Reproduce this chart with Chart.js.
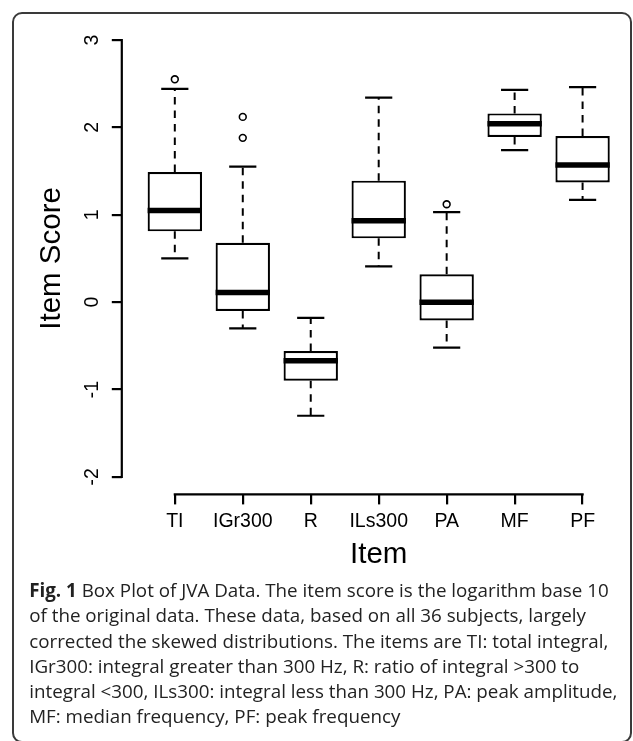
<!DOCTYPE html>
<html>
<head>
<meta charset="utf-8">
<script src="https://cdn.jsdelivr.net/npm/chart.js@4.4.1/dist/chart.umd.min.js"></script>
<style>
html,body{margin:0;padding:0;background:#fff;}
body{width:633px;height:741px;overflow:hidden;position:relative;}
#frame{position:absolute;left:12px;top:12px;width:620px;height:731px;box-sizing:border-box;border:2px solid #3a3a3a;border-radius:10px;}
#wrap{position:absolute;left:0;top:0;width:645px;height:578px;}
#chart{display:block;}
#cap{position:absolute;left:29.2px;top:578.4px;font-family:'Open Sans',sans-serif;font-size:18.8px;line-height:25.1px;color:#222;white-space:nowrap;}
#cap b{font-weight:700;}
</style>
</head>
<body>
<div id="frame"></div>
<div id="wrap"><canvas id="chart" width="645" height="578"></canvas></div>
<div id="cap"><b>Fig. 1</b> Box Plot of JVA Data. The item score is the logarithm base 10<br>of the original data. These data, based on all 36 subjects, largely<br>corrected the skewed distributions. The items are TI: total integral,<br>IGr300: integral greater than 300 Hz, R: ratio of integral &gt;300 to<br>integral &lt;300, ILs300: integral less than 300 Hz, PA: peak amplitude,<br>MF: median frequency, PF: peak frequency</div>
<script>
// ---- data ----
const categories  = ['TI', 'IGr300', 'R', 'ILs300', 'PA', 'MF', 'PF'];
const whiskerLow  = [0.50, -0.30, -1.30, 0.41, -0.52, 1.74, 1.17];
const q1          = [0.81, -0.10, -0.90, 0.73, -0.21, 1.89, 1.37];
const median      = [1.05,  0.11, -0.67, 0.93,  0.00, 2.04, 1.57];
const q3          = [1.49,  0.68, -0.56, 1.39,  0.32, 2.16, 1.90];
const whiskerHigh = [2.44,  1.55, -0.18, 2.34,  1.03, 2.43, 2.46];
const outlierItem  = ['TI', 'IGr300', 'IGr300', 'PA'];
const outlierValue = [2.55, 2.12, 1.88, 1.12];
const yTicks = [-2, -1, 0, 1, 2, 3];

// ---- build chart structures ----
const pos = categories.map((c, i) => i + 1);
const unitPx = (ctx) => {
  const s = ctx.chart.scales.x;
  return s ? Math.abs(s.getPixelForValue(2) - s.getPixelForValue(1)) : 68;
};

const boxData = pos.map((x, i) => ({x: x, y: [q1[i], q3[i]]}));
const medianData = pos.map((x, i) => ({x: x, y: median[i]}));
const capData = pos.map((x, i) => ({x: x, y: whiskerHigh[i]}))
  .concat(pos.map((x, i) => ({x: x, y: whiskerLow[i]})));
const whiskerData = [];
pos.forEach((x, i) => {
  whiskerData.push({x: x, y: q3[i]}, {x: x, y: whiskerHigh[i]}, {x: x, y: null},
                   {x: x, y: q1[i]}, {x: x, y: whiskerLow[i]}, {x: x, y: null});
});
const outlierData = outlierItem.map((c, i) => ({x: categories.indexOf(c) + 1, y: outlierValue[i]}));

Chart.defaults.font.family = "'Liberation Sans', Arial, Helvetica, sans-serif";
Chart.defaults.color = '#000';

const rAxes = {
  id: 'rAxes',
  afterDatasetsDraw(chart) {
    const {ctx, chartArea, scales} = chart;
    const x = scales.x, y = scales.y;
    ctx.save();
    ctx.strokeStyle = '#000';
    ctx.lineWidth = 2.2;
    ctx.lineCap = 'square';
    ctx.beginPath();
    ctx.moveTo(chartArea.left, y.getPixelForValue(yTicks[0]));
    ctx.lineTo(chartArea.left, y.getPixelForValue(yTicks[yTicks.length - 1]));
    ctx.moveTo(x.getPixelForValue(pos[0]), chartArea.bottom);
    ctx.lineTo(x.getPixelForValue(pos[pos.length - 1]), chartArea.bottom);
    ctx.stroke();
    ctx.restore();
  }
};

new Chart(document.getElementById('chart'), {
  type: 'bar',
  data: {
    datasets: [
      {
        type: 'scatter', label: 'outliers', data: outlierData,
        pointStyle: 'circle', pointRadius: 3.4, pointBorderWidth: 1.6,
        pointBorderColor: '#000', pointBackgroundColor: 'rgba(0,0,0,0)', order: 0
      },
      {
        type: 'scatter', label: 'median', data: medianData,
        pointStyle: 'line', pointRadius: (c) => unitPx(c) * 0.4, pointBorderWidth: 5.5,
        pointBorderColor: '#000', pointBackgroundColor: '#000', order: 1
      },
      {
        type: 'scatter', label: 'caps', data: capData,
        pointStyle: 'line', pointRadius: (c) => unitPx(c) * 0.2, pointBorderWidth: 2.2,
        pointBorderColor: '#000', pointBackgroundColor: '#000', order: 2
      },
      {
        type: 'bar', label: 'box', data: boxData,
        backgroundColor: '#fff', borderColor: '#000', borderWidth: 2.2, borderSkipped: false,
        barPercentage: 0.8, categoryPercentage: 1, order: 3
      },
      {
        type: 'line', label: 'whiskers', data: whiskerData,
        borderColor: '#000', borderWidth: 2, borderDash: [7.5, 6], pointRadius: 0,
        spanGaps: false, fill: false, tension: 0, order: 4
      }
    ]
  },
  options: {
    responsive: false,
    animation: false,
    events: [],
    layout: {padding: {top: 16.3, left: 0, right: 9.4, bottom: 0}},
    plugins: {legend: {display: false}, tooltip: {enabled: false}},
    scales: {
      x: {
        type: 'linear', min: 0.22, max: 7.78, offset: false,
        afterBuildTicks: (s) => { s.ticks = pos.map(v => ({value: v})); },
        afterFit: (s) => { s.height = 83.6; },
        ticks: {
          callback: (v, i) => categories[i], font: {size: 19.5}, color: '#000',
          padding: 5.4, autoSkip: false, maxRotation: 0, minRotation: 0
        },
        grid: {offset: false, drawOnChartArea: false, drawTicks: true, tickLength: 10, color: '#000', lineWidth: 2.2},
        border: {display: false},
        title: {display: true, text: 'Item', font: {size: 29.5}, color: '#000', padding: {top: 0, bottom: 5.8}}
      },
      y: {
        type: 'linear', min: -2.2, max: 3.2,
        afterBuildTicks: (s) => { s.ticks = yTicks.map(v => ({value: v})); },
        afterFit: (s) => { s.width = 121.8; },
        ticks: {
          callback: (v) => String(v), font: {size: 19.5}, color: '#000',
          padding: 10.8, minRotation: 90, maxRotation: 90, crossAlign: 'center'
        },
        grid: {drawOnChartArea: false, drawTicks: true, tickLength: 10, color: '#000', lineWidth: 2.2},
        border: {display: false},
        title: {display: true, text: 'Item Score', font: {size: 29.5}, color: '#000', padding: {top: 34, bottom: 0}}
      }
    }
  },
  plugins: [rAxes]
});
</script>
</body>
</html>
